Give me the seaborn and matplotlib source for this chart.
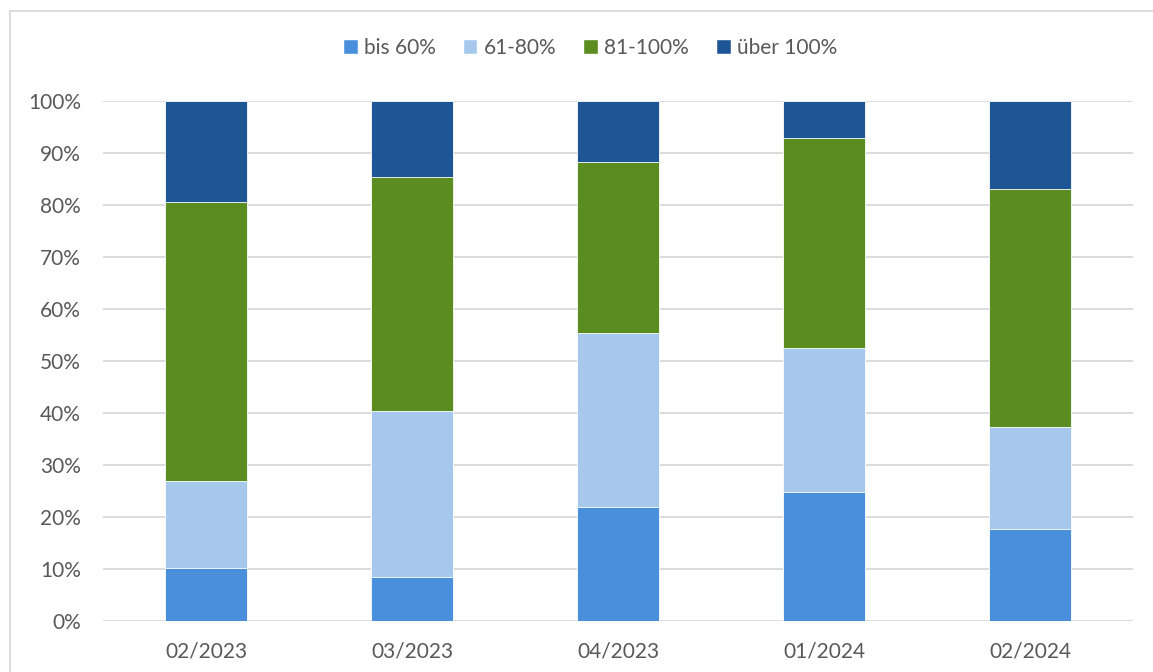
import numpy as np
import pandas as pd
import matplotlib
matplotlib.use("Agg")
import matplotlib.pyplot as plt
from matplotlib.lines import Line2D
from matplotlib.patches import Patch
import seaborn as sns

# data (share in % per period)
periods = ["02/2023", "03/2023", "04/2023", "01/2024", "02/2024"]
series = ["bis 60%", "61-80%", "81-100%", "über 100%"]
bis_60 = [10.2, 8.5, 21.9, 24.8, 17.7]
p61_80 = [16.7, 31.9, 33.5, 27.7, 19.6]
p81_100 = [53.7, 45.0, 32.9, 40.4, 45.8]
ueber_100 = [19.4, 14.6, 11.7, 7.1, 16.9]
colors = ["#4A8FDB", "#A6C8ED", "#5B8C1F", "#1E5595"]

df = pd.DataFrame({"Periode": periods, "bis 60%": bis_60, "61-80%": p61_80,
                   "81-100%": p81_100, "über 100%": ueber_100})
cum = df[series].cumsum(axis=1)

sns.set_theme(style="white")
plt.rcParams['font.family'] = ['Lato', 'DejaVu Sans']
text_col = "#595959"

fig = plt.figure(figsize=(11.53, 6.72), dpi=100)
ax = fig.add_axes([103 / 1153, 1 - 621 / 672, 1030 / 1153, 520 / 672])

# draw cumulative bars from the top series down so they stack visually
for s, c in zip(series[::-1], colors[::-1]):
    sns.barplot(x=df["Periode"], y=cum[s], color=c, width=0.4, saturation=1,
                edgecolor="white", linewidth=0.6, ax=ax, zorder=3)

ax.set_ylim(0, 100)
ax.set_xlim(-0.5, 4.5)
ax.set_yticks(np.arange(0, 101, 10))
ax.set_yticklabels([f"{v}%" for v in range(0, 101, 10)])
ax.yaxis.grid(True, color="#D9D9D9", linewidth=1.3, zorder=0)
ax.set_axisbelow(True)
for sp in ax.spines.values():
    sp.set_visible(False)
ax.set_xlabel("")
ax.set_ylabel("")
ax.tick_params(axis="both", length=0, labelsize=15, colors=text_col)
ax.tick_params(axis="y", pad=16)
ax.tick_params(axis="x", pad=15)

handles = [Patch(facecolor=c, label=s) for s, c in zip(series, colors)]
fig.legend(handles=handles, loc="center", bbox_to_anchor=(590 / 1153, 1 - 48 / 672),
           ncol=4, frameon=False, fontsize=15, labelcolor=text_col,
           handlelength=0.7, handleheight=0.7, handletextpad=0.3, columnspacing=1.3)

# chart frame
fig.add_artist(Line2D([10.5 / 1153, 10.5 / 1153], [0, 1 - 10.5 / 672],
                      transform=fig.transFigure, color="#D9D9D9", linewidth=1.3))
fig.add_artist(Line2D([10.5 / 1153, 1], [1 - 10.5 / 672, 1 - 10.5 / 672],
                      transform=fig.transFigure, color="#D9D9D9", linewidth=1.3))

fig.savefig("out.png", dpi=100)
